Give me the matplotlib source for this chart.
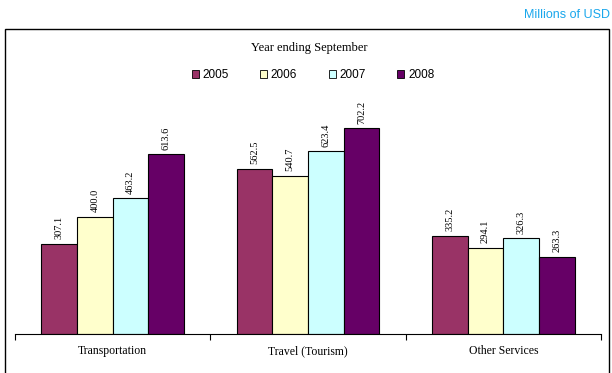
import numpy as np
import matplotlib.pyplot as plt
from matplotlib.patches import Rectangle, Patch

categories = ['Transportation', 'Travel (Tourism)', 'Other Services']
years = ['2005', '2006', '2007', '2008']
v2005 = [307.1, 562.5, 335.2]
v2006 = [400.0, 540.7, 294.1]
v2007 = [463.2, 623.4, 326.3]
v2008 = [613.6, 702.2, 263.3]
series = [v2005, v2006, v2007, v2008]
colors = ['#993366', '#FFFFCC', '#CCFFFF', '#660066']

fig = plt.figure(figsize=(6.12, 3.73), dpi=100)
ax = fig.add_axes([15 / 612, 39 / 373, 586 / 612, 293 / 373])

x = np.arange(len(categories))
w = 0.183
for i, (vals, c) in enumerate(zip(series, colors)):
    pos = x + (i - 1.5) * w
    ax.bar(pos, vals, w, color=c, edgecolor='black', linewidth=0.8, label=years[i])
    for xp, v in zip(pos, vals):
        ax.text(xp, v + 16, f'{v:.1f}', rotation=90, ha='center', va='bottom',
                fontsize=7.5, family='Liberation Serif')

ax.set_xlim(-0.5, 2.5)
ax.set_ylim(0, 1000)
for s in ['left', 'right', 'top']:
    ax.spines[s].set_visible(False)
ax.spines['bottom'].set_linewidth(0.8)
ax.set_yticks([])
ax.set_xticks([-0.5, 0.5, 1.5, 2.5])
ax.set_xticklabels([])
ax.tick_params(axis='x', length=4, width=0.8, direction='out')
for xi, name in zip(x, categories):
    ax.text(xi, -58, name, ha='center', va='center', fontsize=8.5, family='Liberation Serif')

fig.text(309 / 612, 1 - 48 / 373, 'Year ending September', ha='center', va='center',
         fontsize=9, family='Liberation Serif')

handles = [Patch(facecolor=c, edgecolor='black', linewidth=0.6) for c in colors]
fig.legend(handles, years, loc='center', bbox_to_anchor=(313 / 612, 1 - 75 / 373), ncol=4,
           frameon=False, handlelength=0.6, handleheight=0.6,
           handletextpad=0.3, columnspacing=2.67,
           prop={'family': 'Liberation Sans', 'size': 8.5})

# chart border
fig.patches.append(Rectangle((5 / 612, -0.1), 604 / 612, 0.1 + (373 - 29) / 373,
                             transform=fig.transFigure, fill=False, edgecolor='black',
                             linewidth=1.0))

fig.text(610 / 612, 1 - 15 / 373, 'Millions of USD', ha='right', va='center',
         fontsize=9, color='#1AA7EC', family='Liberation Sans')

fig.savefig('out.png', dpi=100)
